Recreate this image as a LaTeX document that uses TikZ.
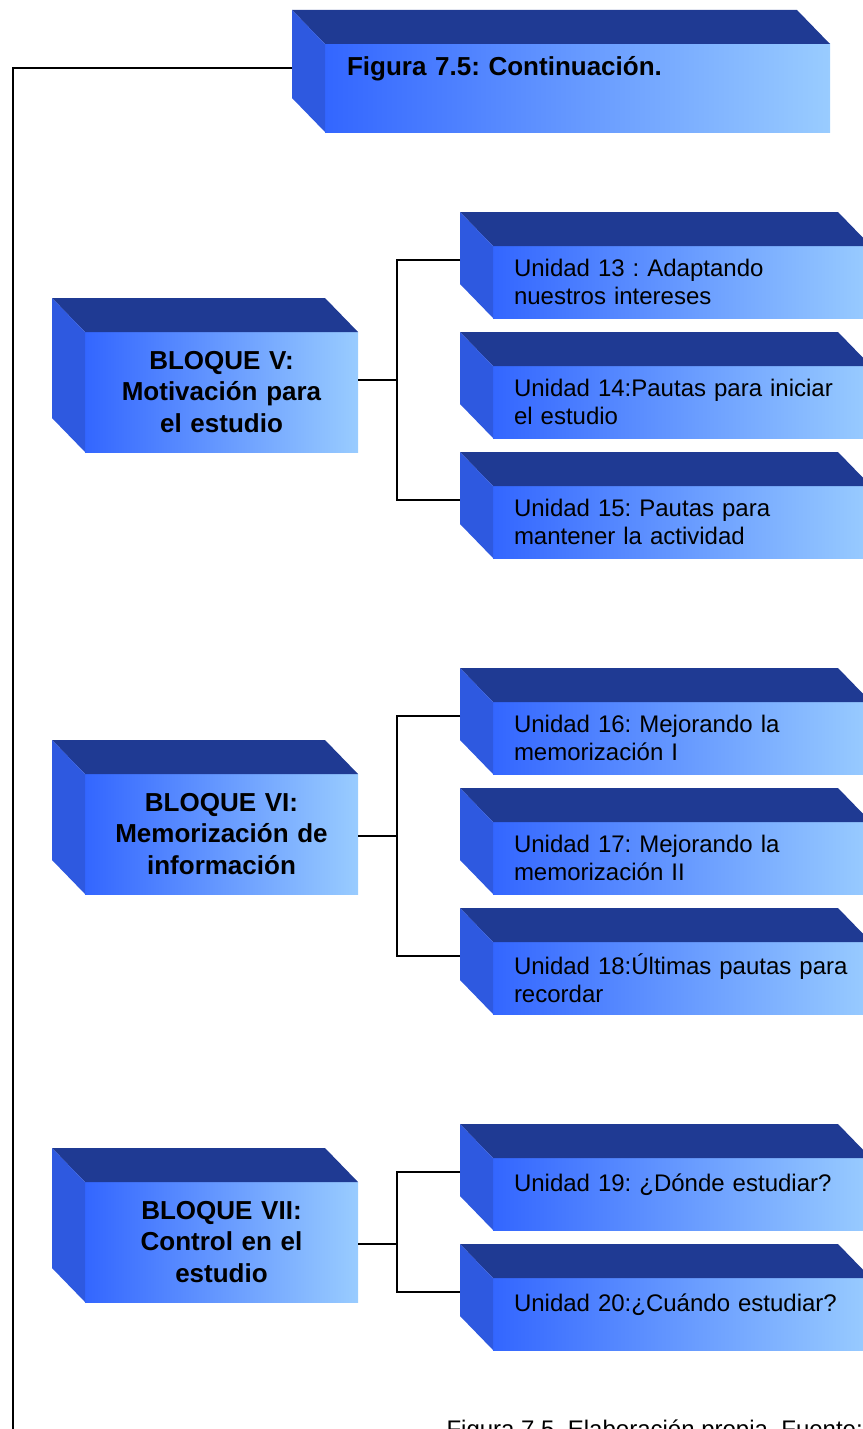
\documentclass[tikz,border=0pt]{standalone}
\usepackage{fontspec}
\setmainfont{Liberation Sans}
\frenchspacing
\definecolor{azultecho}{RGB}{31,58,147}
\definecolor{azullado}{RGB}{46,89,224}
\definecolor{azulfuerte}{RGB}{51,102,255}
\definecolor{azulclaro}{RGB}{153,204,255}
\tikzset{
  frente/.style={anchor=north west,inner sep=0pt,outer sep=0pt,left color=azulfuerte,right color=azulclaro},
  bloque/.style={frente,minimum width=273pt,minimum height=120pt,text width=260pt,align=center,font=\bfseries\fontsize{26}{31.5}\selectfont},
  unidad/.style={frente,minimum width=378pt,minimum height=72pt,inner xsep=21pt,text width=336pt,align=left,font=\fontsize{24}{28}\selectfont},
  titulo/.style={frente,minimum width=505pt,minimum height=88pt,inner xsep=22pt,text width=461pt,align=left,font=\bfseries\fontsize{26}{31}\selectfont},
  subir/.style={text depth=#1},
  linea/.style={line width=1.6pt,black}
}
\begin{document}
\begin{tikzpicture}[x=1pt,y=-1pt]
\useasboundingbox (0,0) rectangle (862,1429);
% cajas
\node[titulo,subir=44pt] (tit) at (325,44) {Figura 7.5: Continuación.};
\node[bloque] (b5) at (85,332) {BLOQUE V:\\Motivación para\\el estudio};
\node[bloque] (b6) at (85,774) {BLOQUE VI:\\Memorización de\\información};
\node[bloque] (b7) at (85,1182) {BLOQUE VII:\\Control en el\\estudio};
\node[unidad] (u13) at (493,246) {Unidad 13 : Adaptando\\nuestros intereses};
\node[unidad] (u14) at (493,366) {Unidad 14:Pautas para iniciar\\el estudio};
\node[unidad] (u15) at (493,486) {Unidad 15: Pautas para\\mantener la actividad};
\node[unidad] (u16) at (493,702) {Unidad 16: Mejorando la\\memorización I};
\node[unidad] (u17) at (493,822) {Unidad 17: Mejorando la\\memorización II};
\node[unidad] (u18) at (493,942) {Unidad 18:Últimas pautas para\\recordar};
\node[unidad,subir=23pt] (u19) at (493,1158) {Unidad 19: ¿Dónde estudiar?};
\node[unidad,subir=23pt] (u20) at (493,1278) {Unidad 20:¿Cuándo estudiar?};
\node[anchor=base west,font=\fontsize{24}{28}\selectfont] (pie) at (443,1437) {Figura 7.5. Elaboración propia. Fuente:};
% caras de las cajas
\foreach \n in {tit,b5,b6,b7,u13,u14,u15,u16,u17,u18,u19,u20}{
  \fill[azultecho] (\n.north west) -- ++(-33,-34) -- ([shift={(-33,-34)}]\n.north east) -- (\n.north east) -- cycle;
  \fill[azullado] (\n.north west) -- ++(-33,-34) -- ([shift={(-33,-34)}]\n.south west) -- (\n.south west) -- cycle;
}
% conectores
\coordinate (j5) at (397,380);
\coordinate (j6) at (397,836);
\coordinate (j7) at (397,1244);
\coordinate (fin) at (13,1440);
\foreach \b/\j/\ua/\ub in {b5/j5/u13/u15,b6/j6/u16/u18,b7/j7/u19/u20}{
  \draw[linea] (\b.east |- \j) -- (\j);
  \draw[linea] ([shift={(-33,14)}]\ua.north west) -| (\j) |- ([shift={(-33,14)}]\ub.north west);
}
\draw[linea] ([shift={(-33,-20)}]tit.west) -| (fin);
\end{tikzpicture}
\end{document}
